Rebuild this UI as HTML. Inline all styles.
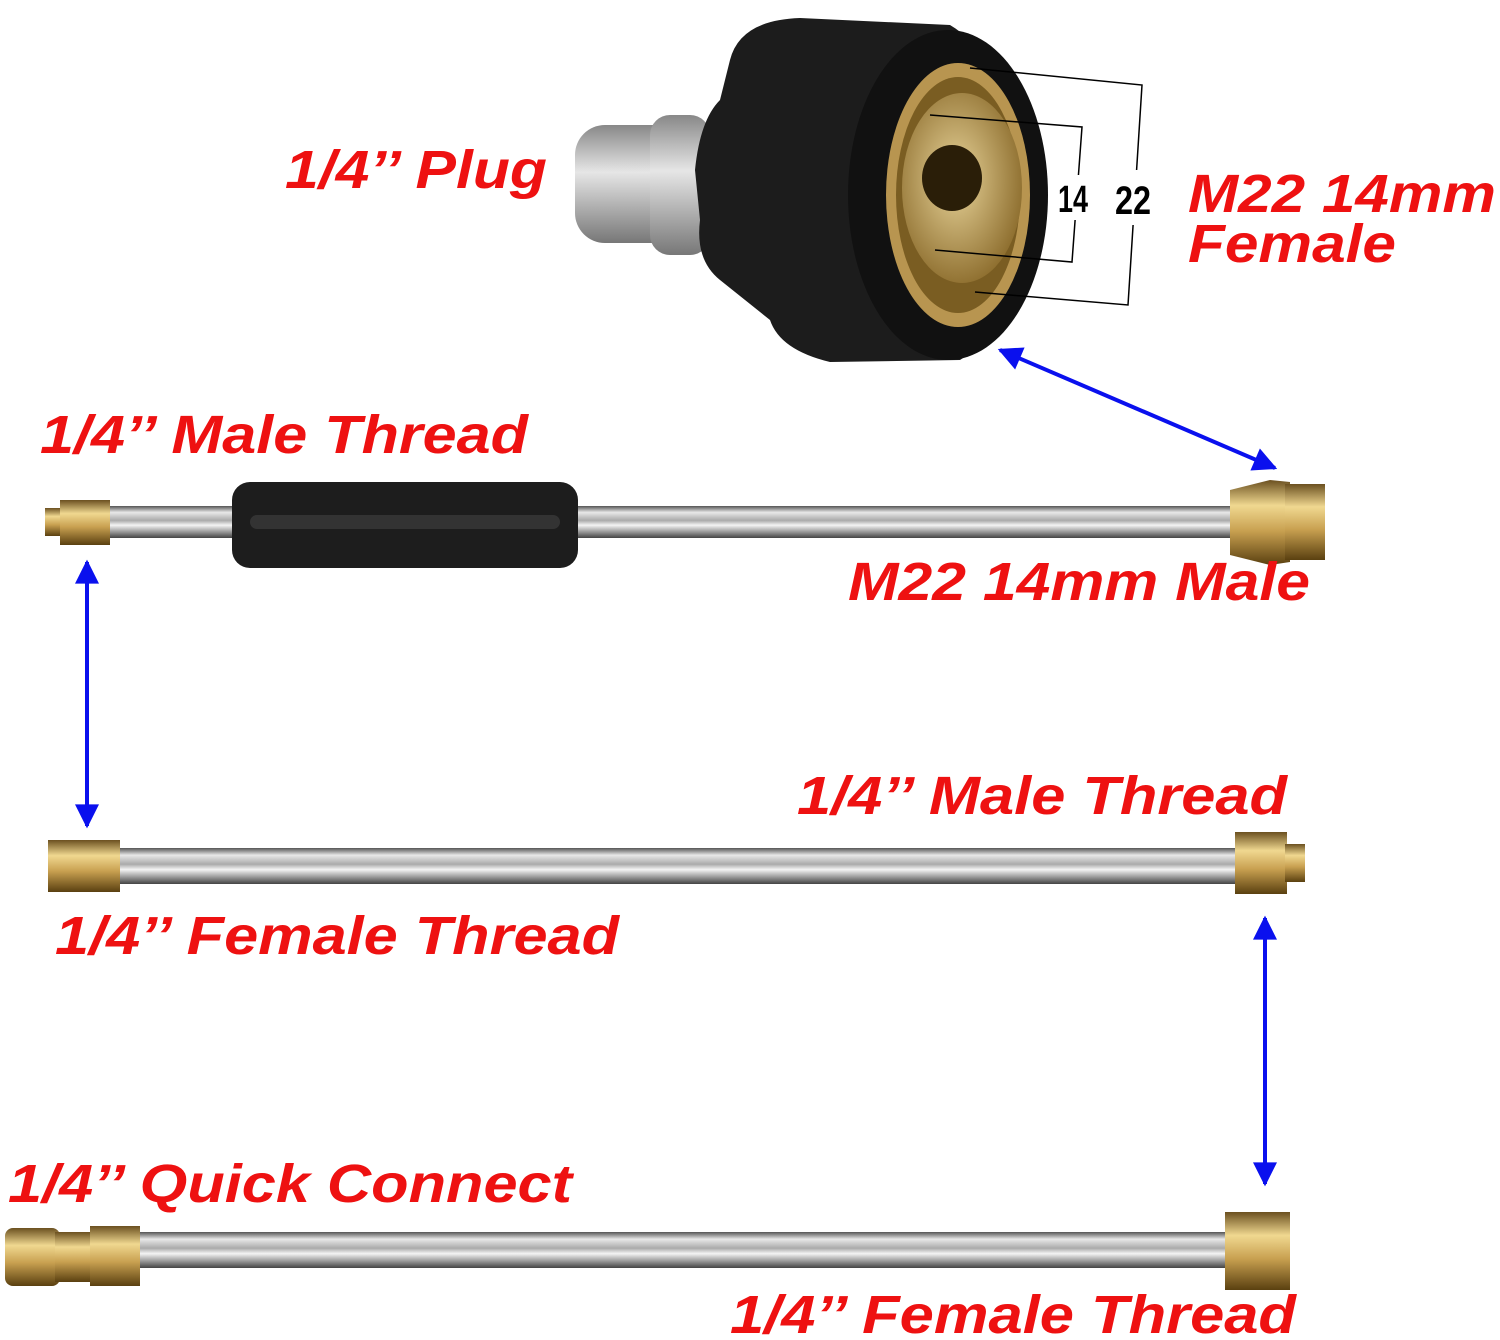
<!DOCTYPE html>
<html><head><meta charset="utf-8"><style>
html,body{margin:0;padding:0;background:#fff}
svg{display:block}
.t{font-family:"Liberation Sans",sans-serif;font-weight:bold;font-style:italic;fill:#ee1111;font-size:54px}
</style></head><body>
<svg width="1500" height="1340" viewBox="0 0 1500 1340" xmlns="http://www.w3.org/2000/svg">
<defs>
<linearGradient id="steel" x1="0" y1="0" x2="0" y2="1">
<stop offset="0" stop-color="#555"/><stop offset="0.2" stop-color="#e8e8e8"/><stop offset="0.45" stop-color="#aaa"/><stop offset="0.6" stop-color="#f4f4f4"/><stop offset="1" stop-color="#444"/></linearGradient>
<linearGradient id="brass" x1="0" y1="0" x2="0" y2="1">
<stop offset="0" stop-color="#6b5020"/><stop offset="0.3" stop-color="#f0d890"/><stop offset="0.6" stop-color="#c8a050"/><stop offset="1" stop-color="#5a4010"/></linearGradient>
<linearGradient id="plug" x1="0" y1="0" x2="0" y2="1">
<stop offset="0" stop-color="#888"/><stop offset="0.4" stop-color="#e6e6e6"/><stop offset="1" stop-color="#777"/></linearGradient>
<radialGradient id="face" cx="0.45" cy="0.45" r="0.6"><stop offset="0" stop-color="#e8d49a"/><stop offset="1" stop-color="#8a6a2a"/></radialGradient>
<marker id="ah" viewBox="0 0 10 10" refX="9" refY="5" markerWidth="7" markerHeight="6" orient="auto-start-reverse"><path d="M0,0L10,5L0,10z" fill="#0a10ee"/></marker>
</defs>

<!-- coupler -->
<rect x="575" y="125" width="130" height="118" rx="30" fill="url(#plug)"/>
<rect x="650" y="115" width="60" height="140" rx="20" fill="url(#plug)"/>
<path d="M730,60 Q740,20 800,18 L950,25 Q1010,60 1015,200 Q1010,330 960,360 L830,362 Q780,350 770,320 L720,280 Q695,260 700,220 L695,170 Q700,120 720,100 Z" fill="#1c1c1c"/>
<ellipse cx="948" cy="195" rx="100" ry="165" fill="#111"/>
<ellipse cx="958" cy="195" rx="72" ry="132" fill="#b89550"/>
<ellipse cx="958" cy="195" rx="62" ry="118" fill="#7a5d22"/>
<ellipse cx="962" cy="188" rx="60" ry="95" fill="url(#face)"/>
<ellipse cx="952" cy="178" rx="30" ry="33" fill="#2a1e08"/>
<g stroke="#000" stroke-width="1.5" fill="none">
<polyline points="970,68 1142,85 1128,305 975,292"/>
<polyline points="930,115 1082,127 1072,262 935,250"/>
</g>
<rect x="1060" y="175" width="30" height="45" fill="#fff"/>
<rect x="1112" y="170" width="40" height="55" fill="#fff"/>
<text x="1058" y="212" font-family="Liberation Sans Narrow,Liberation Sans,sans-serif" font-weight="bold" font-size="38" textLength="30" lengthAdjust="spacingAndGlyphs">14</text>
<text x="1115" y="214" font-family="Liberation Sans Narrow,Liberation Sans,sans-serif" font-weight="bold" font-size="40" textLength="36" lengthAdjust="spacingAndGlyphs">22</text>

<!-- wand 1 -->
<rect x="90" y="506" width="1150" height="32" fill="url(#steel)"/>
<rect x="45" y="508" width="18" height="28" fill="url(#brass)"/>
<rect x="60" y="500" width="50" height="45" fill="url(#brass)"/>
<rect x="232" y="482" width="346" height="86" rx="18" fill="#1d1d1d"/>
<rect x="250" y="515" width="310" height="14" rx="7" fill="#333"/>
<path d="M1230,490 L1270,480 L1290,482 L1290,562 L1270,565 L1230,555Z" fill="url(#brass)"/>
<rect x="1285" y="484" width="40" height="76" fill="url(#brass)"/>

<!-- wand 2 -->
<rect x="110" y="848" width="1135" height="36" fill="url(#steel)"/>
<rect x="48" y="840" width="72" height="52" fill="url(#brass)"/>
<rect x="1235" y="832" width="52" height="62" fill="url(#brass)"/>
<rect x="1285" y="844" width="20" height="38" fill="url(#brass)"/>

<!-- wand 3 -->
<rect x="130" y="1232" width="1100" height="36" fill="url(#steel)"/>
<rect x="5" y="1228" width="55" height="58" rx="8" fill="url(#brass)"/>
<rect x="55" y="1232" width="35" height="50" fill="url(#brass)"/>
<rect x="90" y="1226" width="50" height="60" fill="url(#brass)"/>
<rect x="1225" y="1212" width="65" height="78" fill="url(#brass)"/>

<!-- arrows -->
<g stroke="#0a10ee" stroke-width="4" marker-start="url(#ah)" marker-end="url(#ah)">
<line x1="1000" y1="350" x2="1275" y2="468"/>
<line x1="87" y1="562" x2="87" y2="826"/>
<line x1="1265" y1="918" x2="1265" y2="1184"/>
</g>

<!-- labels -->
<text class="t" x="285" y="188" textLength="262" lengthAdjust="spacingAndGlyphs">1/4’’ Plug</text>
<text class="t" x="1188" y="212" textLength="308" lengthAdjust="spacingAndGlyphs">M22 14mm</text>
<text class="t" x="1188" y="262" textLength="208" lengthAdjust="spacingAndGlyphs">Female</text>
<text class="t" x="40" y="453" textLength="488" lengthAdjust="spacingAndGlyphs">1/4’’ Male Thread</text>
<text class="t" x="848" y="600" textLength="462" lengthAdjust="spacingAndGlyphs">M22 14mm Male</text>
<text class="t" x="797" y="814" textLength="490" lengthAdjust="spacingAndGlyphs">1/4’’ Male Thread</text>
<text class="t" x="55" y="954" textLength="564" lengthAdjust="spacingAndGlyphs">1/4’’ Female Thread</text>
<text class="t" x="8" y="1202" textLength="564" lengthAdjust="spacingAndGlyphs">1/4’’ Quick Connect</text>
<text class="t" x="730" y="1333" textLength="566" lengthAdjust="spacingAndGlyphs">1/4’’ Female Thread</text>
</svg>
</body></html>
